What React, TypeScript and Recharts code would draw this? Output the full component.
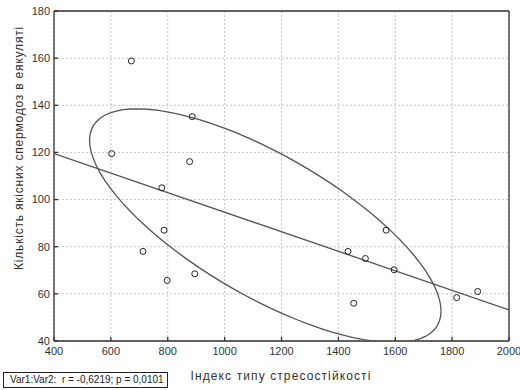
import { CartesianGrid, ComposedChart, Scatter, XAxis, YAxis } from "recharts";

// stress-resistance index (x) and number of good sperm doses (y)
const stressIndex = [672, 603, 886, 877, 779, 787, 713, 798, 895, 1568, 1434, 1495, 1596, 1454, 1816, 1890];
const spermDoses = [158.8, 119.5, 135.2, 116.1, 105, 87, 78, 65.7, 68.5, 87, 78, 75, 70.2, 56, 58.4, 61];

// fitted line end points
const fitX = [400, 2000];
const fitY = [119.5, 53.2];

// confidence ellipse as seen in the picture
const ellipseCenter = [1143, 88.9];
const ellipseRadius = [618, 49.6];
const ellipseCorr = -0.73;

const xMajorTicks = [400, 600, 800, 1000, 1200, 1400, 1600, 1800, 2000];
const xMinorTicks = [500, 700, 900, 1100, 1300, 1500, 1700, 1900];
const yMajorTicks = [40, 60, 80, 100, 120, 140, 160, 180];
const yMinorTicks = [44, 48, 52, 56, 64, 68, 72, 76, 84, 88, 92, 96, 104, 108, 112, 116, 124, 128, 132, 136, 144, 148, 152, 156, 164, 168, 172, 176];

const points = stressIndex.map((x, i) => ({ x, y: spermDoses[i] }));
const fitLine = fitX.map((x, i) => ({ x, y: fitY[i] }));

const ellipse: { x: number; y: number }[] = [];
for (let deg = 0; deg <= 360; deg += 4) {
  const t = (deg * Math.PI) / 180;
  ellipse.push({
    x: ellipseCenter[0] + ellipseRadius[0] * Math.cos(t),
    y: ellipseCenter[1] + ellipseRadius[1] * (ellipseCorr * Math.cos(t) + Math.sqrt(1 - ellipseCorr * ellipseCorr) * Math.sin(t)),
  });
}

const AXIS = "#333";
const tickStyle = { fill: "#333", fontSize: 11, fontFamily: "Liberation Sans, Arial, sans-serif" };

const HollowDot = (props: any) => <circle cx={props.cx} cy={props.cy} r={3} fill="none" stroke="#222" strokeWidth={1} />;
const NoDot = () => <g />;

export default function App() {
  return (
    <div style={{ position: "absolute", left: 0, top: 0, width: 520, height: 390, background: "#fff", fontFamily: "Liberation Sans, Arial, sans-serif" }}>
      <ComposedChart width={520} height={390} margin={{ top: 11, right: 11, bottom: 9, left: 0 }}>
        <CartesianGrid xAxisId="x" yAxisId="y" stroke="#c4c4c4" strokeDasharray="2 2" />
        {/* minor ticks first so they sit on the frame */}
        <XAxis xAxisId="xm" type="number" orientation="bottom" mirror domain={[400, 2000]} ticks={xMinorTicks} height={0.01} tick={false} axisLine={false} tickSize={2} stroke={AXIS} />
        <XAxis xAxisId="x" type="number" dataKey="x" domain={[400, 2000]} ticks={xMajorTicks} allowDataOverflow height={40} tick={tickStyle} tickSize={-4} tickMargin={10} stroke={AXIS} strokeWidth={1.3} />
        <XAxis xAxisId="xt" type="number" orientation="top" mirror domain={[400, 2000]} ticks={xMajorTicks} height={0.01} tick={false} tickSize={4} stroke={AXIS} strokeWidth={1.3} />
        <XAxis xAxisId="xtm" type="number" orientation="top" mirror domain={[400, 2000]} ticks={xMinorTicks} height={0.01} tick={false} axisLine={false} tickSize={2} stroke={AXIS} />
        <YAxis yAxisId="ym" type="number" orientation="left" mirror domain={[40, 180]} ticks={yMinorTicks} width={0.01} tick={false} axisLine={false} tickSize={2} stroke={AXIS} />
        <YAxis yAxisId="y" type="number" dataKey="y" domain={[40, 180]} ticks={yMajorTicks} allowDataOverflow width={54} tick={tickStyle} tickSize={-4} tickMargin={8} stroke={AXIS} strokeWidth={1.3} />
        <YAxis yAxisId="yr" type="number" orientation="right" mirror domain={[40, 180]} ticks={yMajorTicks} width={0.01} tick={false} tickSize={4} stroke={AXIS} strokeWidth={1.3} />
        <YAxis yAxisId="yrm" type="number" orientation="right" mirror domain={[40, 180]} ticks={yMinorTicks} width={0.01} tick={false} axisLine={false} tickSize={2} stroke={AXIS} />
        <Scatter xAxisId="x" yAxisId="y" data={ellipse} shape={NoDot} line={{ stroke: "#555", strokeWidth: 1.3 }} isAnimationActive={false} />
        <Scatter xAxisId="x" yAxisId="y" data={fitLine} shape={NoDot} line={{ stroke: "#555", strokeWidth: 1.3 }} isAnimationActive={false} />
        <Scatter xAxisId="x" yAxisId="y" data={points} shape={HollowDot} isAnimationActive={false} />
      </ComposedChart>
      <div
        style={{
          position: "absolute",
          left: 19,
          top: 148,
          transform: "translate(-50%, -50%) rotate(-90deg)",
          whiteSpace: "nowrap",
          fontSize: 12,
          letterSpacing: 0.8,
          color: "#333",
        }}
      >
        Кількість якісних спермодоз в еякуляті
      </div>
      <div
        style={{
          position: "absolute",
          left: 281,
          top: 376,
          transform: "translate(-50%, -50%)",
          whiteSpace: "nowrap",
          fontSize: 12,
          letterSpacing: 1.1,
          color: "#333",
        }}
      >
        Індекс типу стресостійкості
      </div>
      <div
        style={{
          position: "absolute",
          left: 3,
          top: 372,
          width: 157,
          height: 14,
          border: "1px solid #222",
          fontSize: 10,
          lineHeight: "14px",
          whiteSpace: "pre",
          paddingLeft: 6,
          boxSizing: "content-box",
          color: "#222",
        }}
      >
        {"Var1:Var2:  r = -0,6219; p = 0,0101"}
      </div>
    </div>
  );
}
